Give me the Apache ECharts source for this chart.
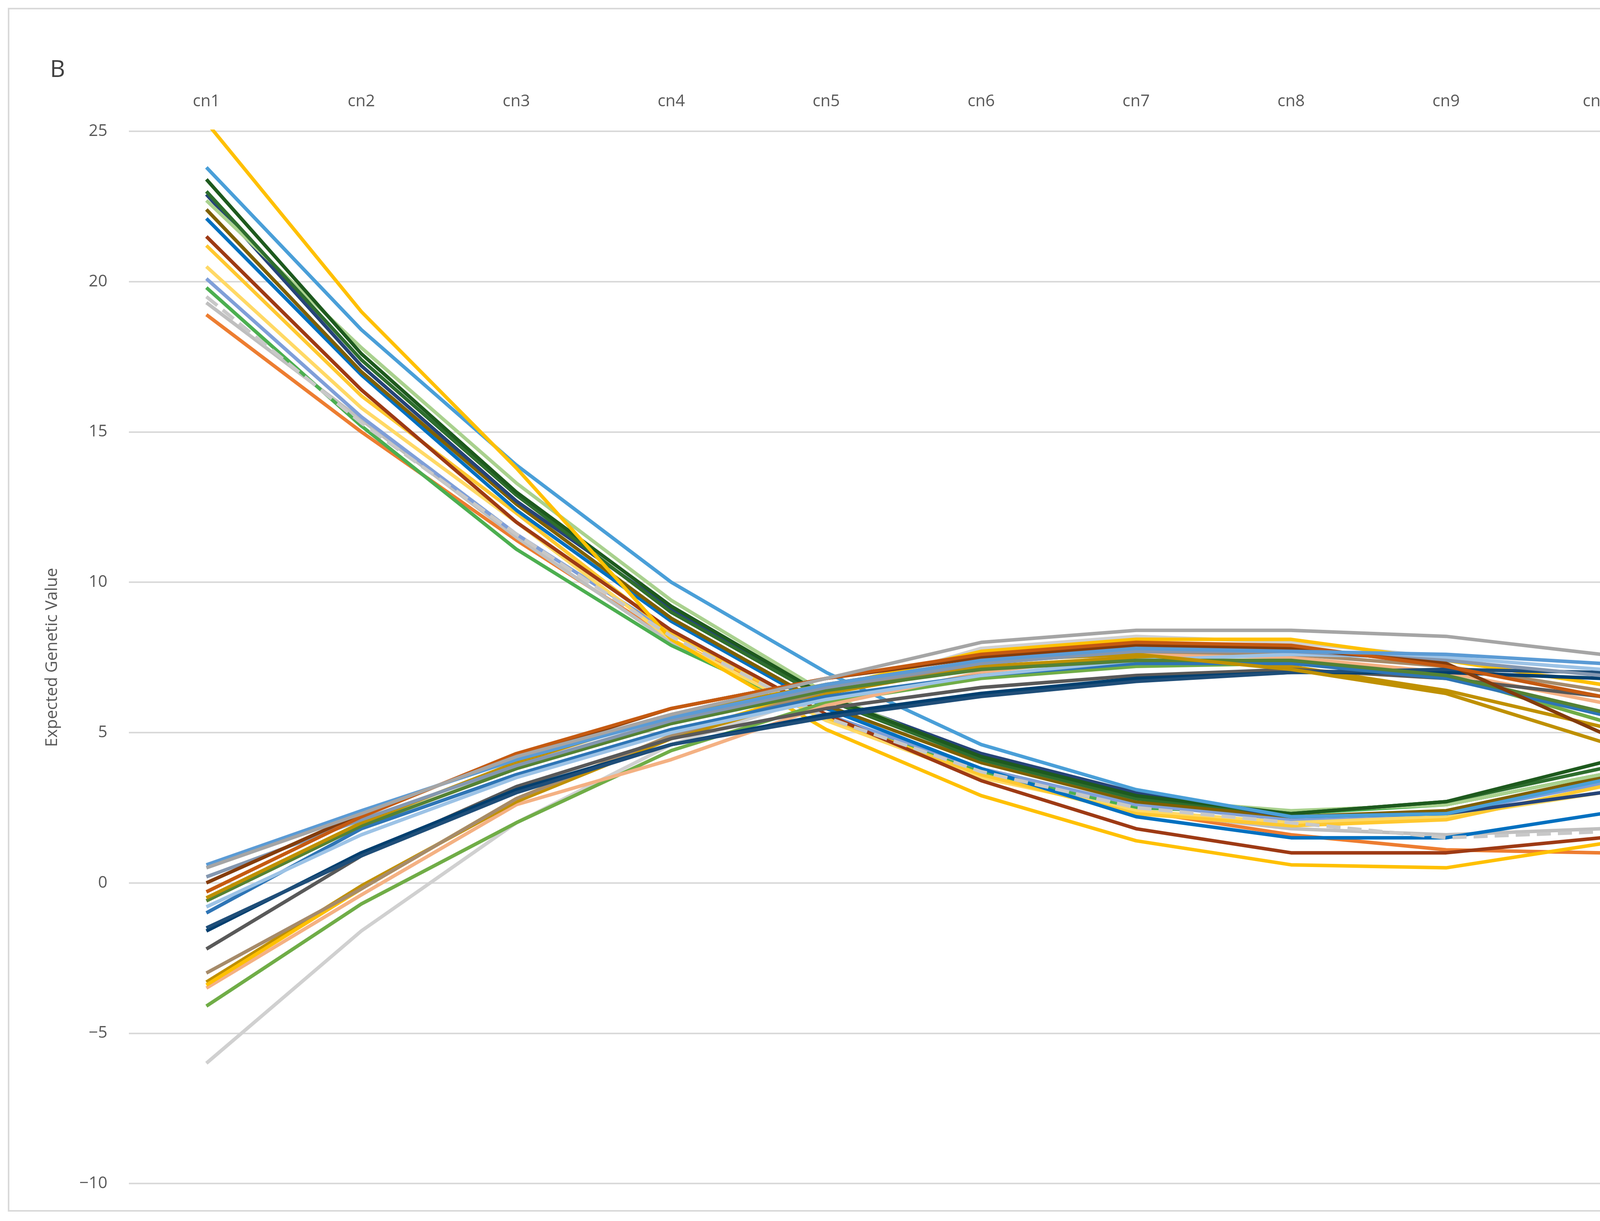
<!DOCTYPE html>
<html>
<head>
<meta charset="utf-8">
<script src="https://cdn.jsdelivr.net/npm/echarts@6/dist/echarts.min.js"></script>
<style>html,body{margin:0;padding:0;background:#fff}#chart{width:4386px;height:3125px}</style>
</head>
<body>
<div id="chart"></div>
<script>
// 类别
var categories = ['cn1', 'cn2', 'cn3', 'cn4', 'cn5', 'cn6', 'cn7', 'cn8', 'cn9', 'cn10'];
var yTicks = [-10, -5, 0, 5, 10, 15, 20, 25];

// 下降组
var d1 = [25.3, 19.0, 13.8, 8.1, 5.1, 2.9, 1.4, 0.6, 0.5, 1.3];
var d2 = [23.8, 18.4, 13.9, 10.0, 7.0, 4.6, 3.1, 2.2, 2.3, 3.4];
var d3 = [23.4, 17.6, 13.0, 9.2, 6.2, 4.2, 2.9, 2.3, 2.7, 4.0];
var d4 = [23.0, 17.4, 12.9, 9.0, 6.1, 4.1, 2.8, 2.3, 2.7, 3.8];
var d5 = [22.4, 17.0, 12.6, 8.8, 5.9, 4.0, 2.7, 2.2, 2.4, 3.5];
var d6 = [22.1, 16.9, 12.4, 8.7, 5.8, 3.8, 2.2, 1.5, 1.5, 2.3];
var d7 = [21.5, 16.4, 12.0, 8.4, 5.6, 3.4, 1.8, 1.0, 1.0, 1.5];
var d8 = [21.2, 16.2, 12.3, 8.3, 5.5, 3.6, 2.3, 1.9, 2.1, 3.2];
var d9 = [20.5, 15.8, 12.0, 8.1, 5.4, 3.5, 2.4, 2.0, 2.2, 3.0];
var d10 = [20.1, 15.5, 11.6, 8.3, 5.6, 3.8, 2.6, 2.1, 2.3, 3.3];
var d11 = [19.8, 15.2, 11.1, 7.9, 5.5, 3.7, 2.5, 2.3, 2.6, 3.6];
var d12 = [19.3, 15.4, 11.5, 8.0, 5.4, 3.6, 2.4, 1.8, 1.6, 1.8];
var d13 = [18.9, 15.0, 11.4, 8.1, 5.5, 3.6, 2.4, 1.6, 1.1, 1.0];
var d14 = [22.7, 17.8, 13.3, 9.4, 6.3, 4.1, 2.8, 2.4, 2.6, 3.6];
var d15 = [22.9, 17.2, 12.7, 9.1, 6.2, 4.3, 3.0, 2.2, 2.3, 3.0];
var d16 = [19.5, 15.3, 11.6, 8.2, 5.5, 3.7, 2.5, 2.0, 1.5, 1.7];

// 上升组
var i1 = [0.6, 2.4, 4.1, 5.5, 6.6, 7.4, 7.8, 7.7, 7.6, 7.3];
var i2 = [0.5, 2.3, 4.2, 5.6, 6.8, 8.0, 8.4, 8.4, 8.2, 7.6];
var i3 = [-0.3, 2.2, 4.3, 5.8, 6.8, 7.6, 8.0, 7.9, 7.2, 6.2];
var i4 = [0.0, 2.3, 4.2, 5.8, 6.8, 7.5, 7.9, 7.8, 7.3, 5.0];
var i5 = [-0.5, 2.0, 4.0, 5.6, 6.6, 7.4, 7.6, 7.1, 6.3, 4.7];
var i6 = [-1.5, 0.9, 3.0, 4.6, 5.5, 6.2, 6.7, 7.0, 7.1, 7.0];
var i7 = [-2.2, 0.9, 3.2, 4.8, 5.8, 6.5, 6.9, 7.1, 6.8, 6.2];
var i8 = [-3.3, -0.1, 2.7, 4.8, 6.3, 7.2, 7.5, 7.2, 6.4, 5.2];
var i9 = [-3.5, -0.4, 2.6, 4.1, 5.9, 7.0, 7.6, 7.5, 7.0, 6.0];
var i10 = [-4.1, -0.7, 2.0, 4.4, 6.0, 6.8, 7.2, 7.3, 6.9, 5.4];
var i11 = [-6.0, -1.6, 2.0, 4.6, 6.3, 7.8, 8.2, 8.0, 7.5, 6.6];
var i12 = [-1.0, 1.8, 3.6, 5.1, 6.2, 6.9, 7.3, 7.3, 6.8, 5.6];
var i13 = [-0.8, 1.6, 3.5, 5.0, 6.1, 6.9, 7.4, 7.6, 7.5, 7.1];
var i14 = [-3.0, -0.2, 2.8, 4.9, 6.4, 7.3, 7.7, 7.6, 7.2, 6.4];
var i15 = [-0.6, 1.9, 3.8, 5.3, 6.4, 7.1, 7.4, 7.4, 6.9, 5.7];
var i16 = [-1.6, 1.0, 3.1, 4.6, 5.6, 6.3, 6.8, 7.0, 7.0, 6.8];
var i17 = [-3.4, -0.2, 2.8, 4.9, 6.5, 7.7, 8.1, 8.1, 7.4, 6.6];
var i18 = [0.2, 2.1, 3.9, 5.4, 6.5, 7.3, 7.7, 7.7, 7.4, 6.9];

var lines = [
	[d13, '#ed7d31'], [d12, '#bfbfbf'], [d11, '#4caf50'], [d10, '#7f9fd8'], [d9, '#ffd966'],
	[d8, '#ffc830'], [d7, '#9e3a14'], [d6, '#0070c0'], [d5, '#7f6000'], [d15, '#264478'],
	[d14, '#a9d18e'], [d4, '#2e6e2e'], [d3, '#1e5a1e'], [d2, '#4a9fd8'], [d1, '#ffc000'],
	[d16, '#c8c8c8', 'dashed'],
	[i11, '#d0d0d0'], [i10, '#70ad47'], [i9, '#f4b183'], [i8, '#c09000'], [i17, '#ffc000'],
	[i14, '#a68b6a'], [i7, '#595959'], [i16, '#003f6f'], [i6, '#1f4e79'], [i12, '#2e75b6'],
	[i13, '#9dc3e6'], [i15, '#548235'], [i5, '#bf9000'], [i18, '#8497b0'], [i4, '#843c0c'],
	[i3, '#c55a11'], [i1, '#5b9bd5'], [i2, '#a5a5a5']
];

var chart = echarts.init(document.getElementById('chart'));
var series = lines.map(function (l, k) {
	return {
		name: 's' + k,
		type: 'line',
		data: l[0],
		symbol: 'none',
		lineStyle: {color: l[1], width: 9, type: l[2] || 'solid'}
	};
});

chart.setOption({
	backgroundColor: '#fff',
	animation: false,
	graphic: [
		{type: 'rect', shape: {x: 22, y: 22, width: 4341, height: 3077}, style: {fill: 'none', stroke: '#d9d9d9', lineWidth: 4}},
		{type: 'text', left: 128, top: 150, style: {text: 'B', fontSize: 60, fill: '#404040', fontFamily: 'Open Sans'}}
	],
	grid: {left: 330, right: 89, top: 336, bottom: 96},
	xAxis: {
		type: 'category',
		position: 'top',
		data: categories,
		axisLine: {show: false},
		axisTick: {show: false},
		axisLabel: {fontSize: 42, color: '#595959', margin: 55, fontFamily: 'Open Sans'}
	},
	yAxis: {
		type: 'value',
		min: yTicks[0],
		max: yTicks[yTicks.length - 1],
		interval: 5,
		name: 'Expected Genetic Value',
		nameLocation: 'middle',
		nameGap: 175,
		nameTextStyle: {fontSize: 42, color: '#595959', fontFamily: 'Open Sans'},
		axisLine: {show: false},
		axisTick: {show: false},
		splitLine: {lineStyle: {color: '#d9d9d9', width: 4}},
		axisLabel: {
			fontSize: 42, color: '#595959', margin: 55, fontFamily: 'Open Sans',
			formatter: function (v) { return String(v).replace('-', '\u2212'); }
		}
	},
	series: series
});
</script>
</body>
</html>
